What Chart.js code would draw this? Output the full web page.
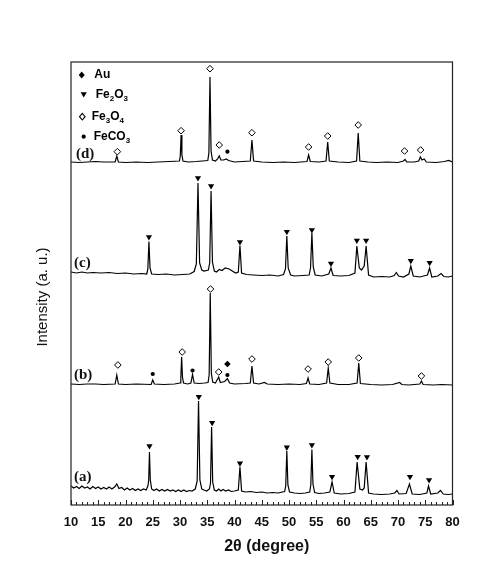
<!DOCTYPE html>
<html>
<head>
<meta charset="utf-8">
<script src="https://cdn.jsdelivr.net/npm/chart.js@4.4.0/dist/chart.umd.min.js"></script>
<style>
  body { margin: 0; background: #fff; }
  canvas { display: block; }
</style>
</head>
<body>
<canvas id="xrd" width="504" height="584"></canvas>
<script>
// x axis tick labels (2θ)
const tickLabels = [10, 15, 20, 25, 30, 35, 40, 45, 50, 55, 60, 65, 70, 75, 80];

// pattern (a)
const aX = [10, 10.5, 11, 11.5, 12, 12.5, 13, 13.5, 14, 14.5, 15, 15.5, 16, 16.5, 17, 17.5, 18, 18.4, 18.8, 19.3, 19.8, 20.3, 20.8, 21.3, 21.8, 22.3, 22.8, 23.3, 23.8, 24.1, 24.25, 24.4, 24.55, 24.8, 25.2, 25.7, 26.2, 26.7, 27.2, 27.7, 28.2, 28.7, 29.2, 29.7, 30.2, 30.7, 31.2, 31.7, 32.2, 32.8, 33.15, 33.4, 33.65, 34.0, 34.4, 34.9, 35.4, 35.6, 35.8, 36.0, 36.3, 36.7, 37.1, 37.5, 37.9, 38.4, 38.9, 39.4, 40, 40.7, 41, 41.3, 42, 43, 44, 45, 46, 47, 48, 49.2, 49.4, 49.6, 49.8, 50.1, 51, 52, 53, 53.8, 54.0, 54.2, 54.4, 54.7, 55.5, 56.5, 57.5, 57.9, 58.3, 59.5, 61, 62.1, 62.5, 63, 63.5, 63.8, 64.15, 64.6, 65.5, 67, 68.5, 69.4, 69.8, 70.2, 71.5, 72.1, 72.6, 74, 75.3, 75.6, 76, 77.3, 77.8, 78.3, 79.2, 80];
const aY = [19, 17, 18.5, 16.5, 19, 17, 18, 16, 18.5, 16.5, 18, 16, 17.5, 16, 18, 16, 18, 21, 16.5, 17.5, 15, 17, 15, 16.5, 14.5, 16, 14.5, 16, 15, 19, 24, 53, 25, 16, 14.5, 16, 14, 15.5, 14, 15.5, 14, 15, 13.5, 15, 13.5, 15, 13.5, 14.5, 14, 16, 24, 104, 25, 16, 15, 14, 16, 22, 78, 23, 15, 14, 16, 14, 15.5, 14, 15, 13.5, 14, 15, 38, 14, 13, 13.5, 12.5, 13, 12, 12.5, 12, 13.5, 19, 54, 20, 13, 12, 11.5, 12, 13, 20, 55.5, 21, 12.5, 11.5, 12, 13, 23, 12, 11, 11.5, 13, 43, 16, 15, 17, 43, 12, 11, 10.5, 11, 12, 14.5, 11, 11.5, 21, 11, 10.5, 12, 19, 11, 12, 14.5, 11, 10.5, 11];

// pattern (b)
const bX = [10, 11.5, 13, 14.5, 16, 18.1, 18.4, 18.7, 20, 22, 24.7, 25, 25.3, 27, 29, 30, 30.15, 30.3, 30.45, 30.65, 31.4, 32, 32.3, 32.6, 33.5, 34.5, 35.15, 35.35, 35.55, 35.75, 36.0, 36.5, 37.1, 37.4, 38.2, 38.7, 39.1, 40, 42, 42.9, 43.2, 43.5, 44.5, 45.5, 46, 48, 50, 52, 53.2, 53.5, 53.8, 55.5, 56.9, 57.2, 57.5, 59, 61, 62.5, 62.8, 63.1, 65, 67, 69, 70.3, 70.7, 72, 74, 74.3, 74.6, 76.5, 78, 80];
const bY = [121, 120.5, 121, 121, 120.5, 121, 130, 121, 120.5, 121, 120.5, 125, 121, 120.5, 121, 122, 127, 148, 128, 122, 121, 122, 130.5, 122, 121.5, 122, 122.5, 130, 212, 132, 123, 122, 128, 122.5, 123.5, 126.5, 122, 121, 121.5, 122, 139, 122, 121, 122.5, 121, 120.5, 121, 120.5, 121.5, 127, 121, 120.5, 122, 137, 122, 120.5, 120.5, 122, 142, 121.5, 120.5, 120, 120.5, 122.5, 120.5, 120, 121, 124, 120.5, 120, 120.5, 120];

// pattern (c)
const cX = [10, 11, 12, 13, 14, 15.5, 17, 18.5, 20, 21.5, 23, 23.9, 24.1, 24.3, 24.5, 24.8, 26, 27.5, 29, 30.5, 31.8, 32.6, 33.0, 33.3, 33.6, 34.0, 34.4, 35.2, 35.45, 35.7, 35.95, 36.3, 36.7, 37.2, 37.7, 38.3, 39, 39.6, 40.2, 40.7, 41, 41.3, 42.2, 43.5, 45, 46.5, 48, 49, 49.35, 49.6, 49.85, 50.3, 51, 52.5, 53.7, 53.95, 54.2, 54.45, 54.8, 56, 57.3, 57.7, 58.1, 59.5, 61, 62.1, 62.45, 62.9, 63.3, 63.8, 64.15, 64.6, 65.5, 67, 68.5, 69.3, 69.7, 70.1, 71, 72, 72.35, 72.8, 74, 75.4, 75.8, 76.2, 77.3, 77.9, 78.4, 79.2, 80];
const cY = [233, 232, 233, 232, 232.5, 232, 232.5, 231.5, 232, 231, 231.5, 231, 236, 263.5, 237, 231, 230.5, 231, 230, 230.5, 231, 233.5, 241, 322, 242, 235, 234, 235, 242, 314, 243, 234, 233, 235.5, 234.5, 237, 236, 234, 232, 233, 259.5, 232, 230.5, 230, 229.5, 230, 229, 230.5, 236, 269, 237, 230, 229, 229.5, 230, 237, 272, 238, 230, 229, 231, 237, 229.5, 229, 229.5, 232, 259, 237, 235, 239, 259, 230, 228, 228.5, 228, 229.5, 232.5, 229, 228, 231, 239, 229, 228, 230, 237, 228, 229, 231.5, 228.5, 228, 229];

// pattern (d)
const dX = [10, 11.5, 13, 14.5, 16, 18.1, 18.4, 18.7, 20, 22, 24, 26, 28, 29.9, 30.05, 30.2, 30.35, 30.55, 31.5, 33, 35.1, 35.3, 35.5, 35.7, 35.95, 36.5, 36.9, 37.2, 37.5, 38, 38.5, 38.9, 40, 41.5, 42.9, 43.2, 43.5, 45, 47, 49, 51, 53.3, 53.6, 53.9, 55.5, 56.8, 57.1, 57.4, 59, 61, 62.4, 62.7, 63, 64.5, 66, 68, 70, 71, 71.3, 71.6, 73, 73.8, 74.1, 74.4, 74.8, 75.2, 77, 78.5, 79.3, 80];
const dY = [343, 342.5, 343, 343.5, 343, 343, 349, 343, 342.5, 343, 342.5, 343, 343.5, 344, 349, 370, 350, 344, 343, 343.5, 344.5, 352, 428, 354, 345, 344, 346, 349, 345, 345, 346, 344.5, 343, 343.5, 344, 365, 344, 343, 342.5, 343, 342.5, 343.5, 350, 343.5, 343, 344, 363, 344, 343, 342.5, 344, 372, 344, 343, 342.5, 343, 342.5, 344, 345.5, 343, 343, 344, 348, 345, 346, 343, 342.5, 343.5, 344.5, 343];

// phase markers
const hematiteX = [24.3, 33.3, 35.7, 41.0, 49.6, 54.2, 57.7, 62.45, 64.15, 72.35, 75.8,
                   24.4, 33.45, 35.9, 41.0, 49.6, 54.2, 57.9, 62.6, 64.3, 72.2, 75.7];
const hematiteY = [268, 327, 319, 263, 273.3, 275, 241.5, 264.5, 264.5, 244.3, 242.3,
                   59, 108.3, 82.3, 41.7, 57.7, 60, 28.3, 48.3, 48, 28.3, 25];
const magnetiteX = [18.5, 30.2, 35.5, 37.2, 43.2, 53.6, 57.1, 62.7, 71.2, 74.15,
                    18.6, 30.4, 35.6, 37.1, 43.2, 53.5, 57.2, 62.8, 74.3];
const magnetiteY = [353.3, 374.3, 436.3, 360, 372.3, 358, 369, 380, 354, 355,
                    140, 153, 216, 133, 146, 136, 143, 147, 129];
const sideriteX = [38.7, 25.0, 32.3, 38.7];
const sideriteY = [353.3, 131, 134.5, 130];
const goldX = [38.7];
const goldY = [141];

// curve labels
const curveNames = ['(a)', '(b)', '(c)', '(d)'];
const curveLabelX = [10.55, 10.55, 10.55, 10.9];
const curveLabelY = [28.3, 130, 242.3, 351];

function pts(xs, ys) {
  return xs.map((x, i) => ({ x: x, y: ys[i] }));
}

function tri(ctx, x, y, r) {
  ctx.beginPath();
  ctx.moveTo(x - r * 0.866, y - r / 2);
  ctx.lineTo(x + r * 0.866, y - r / 2);
  ctx.lineTo(x, y + r);
  ctx.closePath();
  ctx.fill();
}

function diamond(ctx, x, y, r, filled) {
  ctx.beginPath();
  ctx.moveTo(x, y - r);
  ctx.lineTo(x + r * 0.85, y);
  ctx.lineTo(x, y + r);
  ctx.lineTo(x - r * 0.85, y);
  ctx.closePath();
  if (filled) ctx.fill(); else ctx.stroke();
}

function chem(ctx, parts, x, y) {
  parts.forEach(p => {
    if (p.length > 1) {
      ctx.font = 'bold 8px "Liberation Sans", Arial';
      ctx.fillText(p[0], x, y + 4);
    } else {
      ctx.font = 'bold 12px "Liberation Sans", Arial';
      ctx.fillText(p[0], x, y);
    }
    x += ctx.measureText(p[0]).width;
  });
}

const decor = {
  id: 'decor',
  beforeDraw(chart) {
    const ctx = chart.ctx;
    ctx.save();
    ctx.fillStyle = '#fff';
    ctx.fillRect(0, 0, chart.width, chart.height);
    ctx.restore();
  },
  afterDraw(chart) {
    const { ctx, chartArea: ar, scales: { x, y } } = chart;
    ctx.save();
    ctx.strokeStyle = '#222';
    ctx.lineWidth = 1.2;
    ctx.strokeRect(ar.left, ar.top, ar.right - ar.left, ar.bottom - ar.top);

    // inward ticks on the 2θ axis
    ctx.lineWidth = 1;
    for (let v = 10; v <= 80; v++) {
      const px = Math.round(x.getPixelForValue(v)) + 0.5;
      const len = v % 5 === 0 ? 5 : 3;
      ctx.beginPath();
      ctx.moveTo(px, ar.bottom);
      ctx.lineTo(px, ar.bottom - len);
      ctx.stroke();
    }

    // curve labels
    ctx.fillStyle = '#111';
    ctx.font = 'bold 15px "Liberation Serif", "Times New Roman"';
    ctx.textBaseline = 'middle';
    ctx.textAlign = 'left';
    curveNames.forEach((n, i) => {
      ctx.fillText(n, x.getPixelForValue(curveLabelX[i]), y.getPixelForValue(curveLabelY[i]));
    });

    // legend
    ctx.fillStyle = '#000';
    ctx.strokeStyle = '#000';
    diamond(ctx, 81.7, 75, 3.5, true);
    chem(ctx, [['Au']], 94.3, 75);
    tri(ctx, 83.7, 94, 3.6);
    chem(ctx, [['Fe'], ['2', 1], ['O'], ['3', 1]], 95.7, 95);
    ctx.lineWidth = 1.1;
    diamond(ctx, 82.3, 116.7, 3.3, false);
    chem(ctx, [['Fe'], ['3', 1], ['O'], ['4', 1]], 91.7, 116.7);
    ctx.beginPath();
    ctx.arc(83.7, 136.7, 2.1, 0, Math.PI * 2);
    ctx.fill();
    chem(ctx, [['FeCO'], ['3', 1]], 93.7, 136.7);

    // axis titles
    ctx.fillStyle = '#111';
    ctx.textAlign = 'center';
    ctx.font = 'bold 16px "Liberation Sans", Arial';
    ctx.fillText('2θ (degree)', 266.7, 546.7);
    ctx.translate(42.5, 297);
    ctx.rotate(-Math.PI / 2);
    ctx.font = '15px "Liberation Sans", Arial';
    ctx.fillText('Intensity (a. u.)', 0, 0);
    ctx.restore();
  }
};

function trace(xs, ys) {
  return {
    type: 'line',
    data: pts(xs, ys),
    borderColor: '#000',
    borderWidth: 1.2,
    pointRadius: 0,
    tension: 0,
    fill: false,
    order: 1
  };
}

function marks(xs, ys, style, r, filled, rot) {
  return {
    type: 'scatter',
    data: pts(xs, ys),
    pointStyle: style,
    pointRadius: r,
    rotation: rot || 0,
    backgroundColor: filled ? '#000' : '#fff',
    borderColor: '#000',
    borderWidth: filled ? 0 : 1,
    order: 0
  };
}

new Chart(document.getElementById('xrd'), {
  type: 'line',
  data: {
    datasets: [
      marks(hematiteX, hematiteY, 'triangle', 3.6, true, 180),
      marks(magnetiteX, magnetiteY, 'rectRot', 3.3, false),
      marks(sideriteX, sideriteY, 'circle', 2.1, true),
      marks(goldX, goldY, 'rectRot', 3.3, true),
      trace(aX, aY),
      trace(bX, bY),
      trace(cX, cY),
      trace(dX, dY)
    ]
  },
  options: {
    responsive: false,
    animation: false,
    layout: { padding: { left: 71, right: 51.5, top: 62, bottom: 0 } },
    plugins: { legend: { display: false }, tooltip: { enabled: false } },
    scales: {
      x: {
        type: 'linear',
        min: 10,
        max: 80,
        afterBuildTicks: s => { s.ticks = tickLabels.map(v => ({ value: v })); },
        afterFit: s => { s.height = 79; },
        grid: { display: false, drawTicks: false },
        border: { display: false },
        ticks: {
          padding: 10,
          color: '#111',
          font: { family: '"Liberation Sans", Arial', size: 13, weight: 'bold' }
        }
      },
      y: {
        type: 'linear',
        min: 0,
        max: 443,
        display: false
      }
    }
  },
  plugins: [decor]
});
</script>
</body>
</html>
